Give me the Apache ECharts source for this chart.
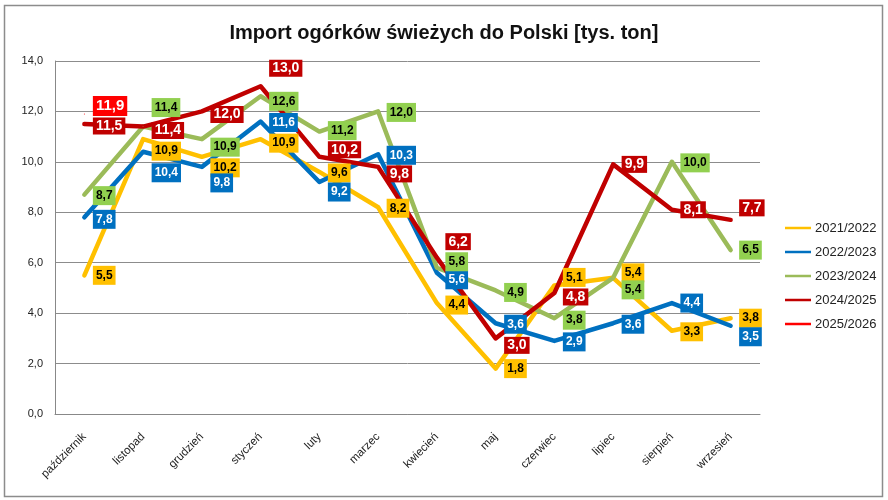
<!DOCTYPE html>
<html>
<head>
<meta charset="utf-8">
<script src="https://cdn.jsdelivr.net/npm/echarts@6/dist/echarts.min.js"></script>
<style>
  html, body { margin: 0; padding: 0; background: #fff; }
  #chart { width: 888px; height: 500px; }
</style>
</head>
<body>
<div id="chart"></div>
<script>
const months = ['październik', 'listopad', 'grudzień', 'styczeń', 'luty', 'marzec',
  'kwiecień', 'maj', 'czerwiec', 'lipiec', 'sierpień', 'wrzesień'];
const seasons = ['2021/2022', '2022/2023', '2023/2024', '2024/2025', '2025/2026'];

const v2122 = [5.5, 10.9, 10.2, 10.9, 9.6, 8.2, 4.4, 1.8, 5.1, 5.4, 3.3, 3.8];
const v2223 = [7.8, 10.4, 9.8, 11.6, 9.2, 10.3, 5.6, 3.6, 2.9, 3.6, 4.4, 3.5];
const v2324 = [8.7, 11.4, 10.9, 12.6, 11.2, 12.0, 5.8, 4.9, 3.8, 5.4, 10.0, 6.5];
const v2425 = [11.5, 11.4, 12.0, 13.0, 10.2, 9.8, 6.2, 3.0, 4.8, 9.9, 8.1, 7.7];
const v2526 = [11.9];

// przesunięcie etykiet w pionie (px), jak w oryginale
const shift2122 = [0, 12, 11, 4, 1, 1, 2, 0, -8, -5, 1, 0];
const shift2223 = [2, 21, 16, 1, 10, 1, 7, 1, 1, 1, 0, 11];
const shift2324 = [1, -19, 8, 5, -1, 1, -6, 2, 2, 12, 1, 0];
const shift2425 = [2, 4, 3, -18, -7, 7, -16, 7, 4, 0, 0, -12];
const shift2526 = [-8];

const yTicks = [0, 2, 4, 6, 8, 10, 12, 14];

const FONT = 'Liberation Sans';
const fmt = (v) => v.toFixed(1).replace('.', ',');

function makeSeries(name, values, shifts, lineColor, boxColor, textColor, fontSize, pad) {
  return {
    name: name,
    type: 'line',
    data: values.map((v, i) => ({ value: v, label: { offset: [0, shifts[i]] } })),
    symbol: 'circle',
    symbolSize: 1,
    showSymbol: true,
    showAllSymbol: true,
    itemStyle: { color: lineColor },
    lineStyle: { color: lineColor, width: 4.5, cap: 'round', join: 'round' },
    emphasis: { disabled: true },
    label: {
      show: true,
      position: 'right',
      distance: 8,
      formatter: (p) => fmt(p.value),
      backgroundColor: boxColor,
      color: textColor,
      fontFamily: FONT,
      fontWeight: 'bold',
      fontSize: fontSize,
      lineHeight: fontSize + 1,
      padding: pad,
    },
  };
}

const chart = echarts.init(document.getElementById('chart'), null, { renderer: 'canvas' });

const option = {
  animation: false,
  backgroundColor: '#fff',
  title: {
    text: 'Import ogórków świeżych do Polski [tys. ton]',
    left: 'center',
    top: 18,
    textStyle: { fontFamily: FONT, fontSize: 20, fontWeight: 'bold', color: '#111' },
  },
  graphic: [{
    type: 'rect',
    shape: { x: 4.5, y: 5.5, width: 878, height: 491 },
    style: { fill: 'none', stroke: '#8c8c8c', lineWidth: 1.5 },
    silent: true,
  }],
  legend: {
    data: seasons,
    orient: 'vertical',
    left: 780,
    top: 216,
    itemGap: 10,
    itemWidth: 26,
    itemHeight: 2.5,
    icon: 'rect',
    textStyle: { fontFamily: FONT, fontSize: 13, lineHeight: 14, color: '#222', padding: [0, 0, 0, -1] },
  },
  grid: { left: 55, right: 128, top: 61, bottom: 86 },
  xAxis: {
    type: 'category',
    data: months,
    boundaryGap: true,
    axisLine: { show: true, lineStyle: { color: '#888', width: 1 } },
    axisTick: { show: false },
    axisLabel: {
      rotate: 45,
      interval: 0,
      margin: 21,
      fontFamily: FONT,
      fontSize: 11.5,
      color: '#222',
    },
  },
  yAxis: {
    type: 'value',
    min: yTicks[0],
    max: yTicks[yTicks.length - 1],
    interval: 2,
    axisLine: { show: true, lineStyle: { color: '#888', width: 1 } },
    axisTick: { show: false },
    splitLine: { lineStyle: { color: '#8c8c8c', width: 1 } },
    axisLabel: {
      margin: 12,
      fontFamily: FONT,
      fontSize: 11,
      color: '#222',
      formatter: (v) => fmt(v),
    },
  },
  series: [
    makeSeries(seasons[0], v2122, shift2122, '#FFC000', '#FFC000', '#000', 12, [3, 3]),
    makeSeries(seasons[1], v2223, shift2223, '#0070C0', '#0070C0', '#fff', 12, [3, 3]),
    makeSeries(seasons[2], v2324, shift2324, '#9BBB59', '#92D050', '#000', 12, [3, 3]),
    makeSeries(seasons[3], v2425, shift2425, '#C00000', '#C00000', '#fff', 14, [1, 3]),
    makeSeries(seasons[4], v2526, shift2526, '#FF0000', '#FF0000', '#fff', 15, [2, 3]),
  ],
};

chart.setOption(option);
</script>
</body>
</html>
